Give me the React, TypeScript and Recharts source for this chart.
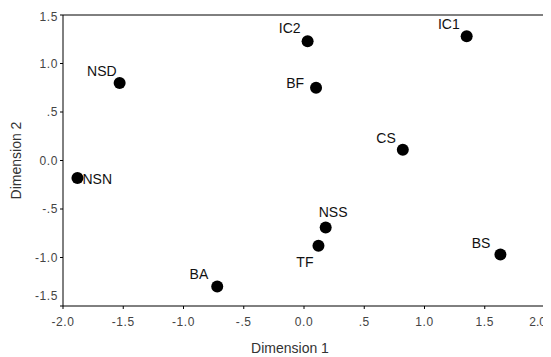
import { ScatterChart, Scatter, XAxis, YAxis, ReferenceLine } from "recharts";

const names = ["NSD", "NSN", "IC2", "BF", "IC1", "CS", "NSS", "TF", "BS", "BA"];
const dim1 = [-1.53, -1.88, 0.03, 0.1, 1.35, 0.82, 0.18, 0.12, 1.63, -0.72];
const dim2 = [0.8, -0.18, 1.23, 0.75, 1.28, 0.11, -0.69, -0.88, -0.97, -1.3];

const xTicks = [-2, -1.5, -1, -0.5, 0, 0.5, 1, 1.5, 2];
const yTicks = [-1.5, -1, -0.5, 0, 0.5, 1, 1.5];

const data = names.map((name, i) => ({ name, x: dim1[i], y: dim2[i] }));

// where each label sits relative to its dot
const labelPlace: Record<string, { dx: number; dy: number; anchor: "start" | "middle" | "end" }> = {
  NSD: { dx: -3, dy: -7, anchor: "end" },
  NSN: { dx: 5, dy: 6, anchor: "start" },
  IC2: { dx: -7, dy: -8, anchor: "end" },
  BF: { dx: -12, dy: 0, anchor: "end" },
  IC1: { dx: -7, dy: -7, anchor: "end" },
  CS: { dx: -7, dy: -7, anchor: "end" },
  NSS: { dx: -7, dy: -10, anchor: "start" },
  TF: { dx: -5, dy: 21, anchor: "end" },
  BS: { dx: -10, dy: -7, anchor: "end" },
  BA: { dx: -9, dy: -8, anchor: "end" },
};

const fmt = (v: number) => {
  const s = Math.abs(v).toFixed(1);
  const t = s.startsWith("0.") && v !== 0 ? s.slice(1) : s;
  return (v < 0 ? "-" : "") + t;
};

const font = "Liberation Sans, Arial, sans-serif";

function Dot(props: any) {
  const { cx, cy, payload } = props;
  const p = labelPlace[payload.name];
  return (
    <g>
      <circle cx={cx} cy={cy} r={6} fill="#000" />
      <text x={cx + p.dx} y={cy + p.dy} textAnchor={p.anchor} fontSize={14} fontFamily={font} fill="#111">
        {payload.name}
      </text>
    </g>
  );
}

function XTick(props: any) {
  const { x, y, payload } = props;
  // last label is squeezed against the right edge
  const isLast = payload.value === 2;
  return (
    <text
      x={isLast ? x + 1 : x}
      y={y}
      dy={12}
      textAnchor={isLast ? "end" : "middle"}
      fontSize={12}
      letterSpacing={isLast ? 0 : 0.6}
      fontFamily={font}
      fill="#444"
    >
      {fmt(payload.value)}
    </text>
  );
}

function YTick(props: any) {
  const { x, y, payload } = props;
  const shift = payload.value === -1.5 ? -10 : 0;
  return (
    <text x={x} y={y + shift} dy={4} textAnchor="end" fontSize={12} letterSpacing={0.6} fontFamily={font} fill="#444">
      {fmt(payload.value)}
    </text>
  );
}

export default function App() {
  return (
    <div style={{ width: 543, height: 349, background: "#fff" }}>
      <ScatterChart
        width={543}
        height={349}
        margin={{ top: 7, right: 6, left: 0, bottom: 0 }}
        style={{ overflow: "visible" }}
      >
        <XAxis
          type="number"
          dataKey="x"
          domain={[-2, 2]}
          ticks={xTicks}
          height={51}
          stroke="#000"
          tickSize={3}
          tickMargin={5}
          tick={<XTick />}
          label={{ value: "Dimension 1", position: "insideBottom", offset: 4, dx: -14, fontSize: 14, fill: "#333", fontFamily: font }}
        />
        <YAxis
          type="number"
          dataKey="y"
          domain={[-1.5, 1.5]}
          ticks={yTicks}
          width={55}
          stroke="#000"
          tickSize={3}
          tick={<YTick />}
          label={{ value: "Dimension 2", angle: -90, position: "insideLeft", offset: 8, fontSize: 14, fill: "#333", fontFamily: font, style: { textAnchor: "middle" } }}
        />
        <ReferenceLine y={1.5} stroke="#000" />
        <ReferenceLine x={2} stroke="#000" />
        <Scatter data={data} shape={<Dot />} isAnimationActive={false} />
      </ScatterChart>
    </div>
  );
}
